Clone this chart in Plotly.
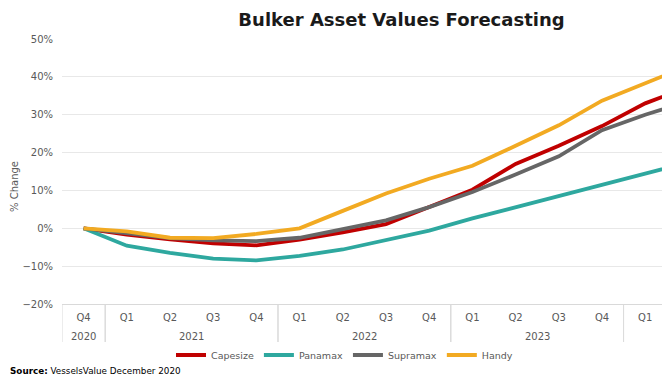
import plotly.graph_objects as go

# Periods on the category axis, with their two label rows
periods = ["Q4 2020", "Q1 2021", "Q2 2021", "Q3 2021", "Q4 2021",
           "Q1 2022", "Q2 2022", "Q3 2022", "Q4 2022",
           "Q1 2023", "Q2 2023", "Q3 2023", "Q4 2023",
           "Q1 2024", "Q2 2024"]
quarter_labels = ["Q4", "Q1", "Q2", "Q3", "Q4", "Q1", "Q2", "Q3", "Q4",
                  "Q1", "Q2", "Q3", "Q4", "Q1", "Q2"]
year_labels = ["2020", "2021", "2022", "2023"]
year_first_idx = [0, 1, 5, 9]   # first period of each year group
year_sizes = [1, 4, 4, 4]       # periods in each group

# % change series (Q4 2020 .. Q2 2024)
capesize = [0, -1.7, -2.9, -4.0, -4.5, -3.0, -1.1, 1.1, 5.6, 10.2, 17.0, 21.8, 27.0, 33.0, 37.3]
panamax = [0, -4.6, -6.5, -8.0, -8.5, -7.3, -5.6, -3.0, -0.6, 2.6, 5.6, 8.5, 11.5, 14.4, 17.4]
supramax = [0, -1.4, -2.6, -3.2, -3.4, -2.5, -0.3, 2.1, 5.6, 9.6, 14.2, 19.0, 25.9, 30.0, 33.5]
handy = [0, -0.8, -2.5, -2.6, -1.5, 0.0, 4.6, 9.2, 13.1, 16.5, 21.8, 27.2, 33.7, 38.3, 42.9]

series = [("Capesize", capesize, "#C00000"),
          ("Panamax", panamax, "#2EA89F"),
          ("Supramax", supramax, "#666666"),
          ("Handy", handy, "#F2AA22")]

FONT = "DejaVu Sans"
GREY = "#595959"
LINE_GREY = "#d9d9d9"

fig = go.Figure()
for name, vals, color in series:
    fig.add_trace(go.Scatter(
        x=periods[:len(vals)], y=vals, name=name, mode="lines",
        line=dict(color=color, width=3.8),
    ))

# the page body has an 8px margin: size the figure to the visible window
OFF = 8
W, H = 670 - OFF, 380 - OFF
PL, PT, PB = 62, 39, 304          # plot-area edges in window pixels
L, R, T = PL - OFF, 0, PT - OFF
B = H - (PB - OFF)
plot_w = W - L - R
plot_h = H - T - B
cat_w = 43.2
xmax = plot_w / cat_w - 0.5


def px_x(X):   # window x -> paper x
    return (X - PL) / plot_w


def px_y(Y):   # window y -> paper y
    return (PB - Y) / plot_h


fig.update_layout(
    width=W, height=H,
    margin=dict(l=L, r=R, t=T, b=B, autoexpand=False),
    paper_bgcolor="white", plot_bgcolor="white",
    font=dict(family=FONT, size=10, color=GREY),
    title=dict(text="<b>Bulker Asset Values Forecasting</b>",
               font=dict(family=FONT, size=18, color="#1a1a1a"),
               x=(401.5 - OFF) / W, xref="container", xanchor="center",
               y=1 - (20 - OFF) / H, yref="container", yanchor="middle"),
    showlegend=True,
    legend=dict(orientation="h", xref="container", yref="container",
                x=(344.5 - OFF) / W, xanchor="center",
                y=1 - (355 - OFF) / H, yanchor="middle",
                font=dict(family=FONT, size=9.5, color=GREY),
                itemwidth=30, bgcolor="rgba(0,0,0,0)"),
    xaxis=dict(type="category", categoryorder="array", categoryarray=periods,
               range=[-0.5, xmax], automargin=False,
               tickmode="array", tickvals=periods, ticktext=quarter_labels,
               showgrid=False, zeroline=False,
               showline=True, linecolor=LINE_GREY, linewidth=1,
               ticks="", ticklabelstandoff=4,
               tickfont=dict(family=FONT, size=10, color=GREY)),
    yaxis=dict(range=[-20, 50], dtick=10, ticksuffix="%", automargin=False,
               showgrid=True, gridcolor="#e8e8e8", gridwidth=1,
               zeroline=False, showline=False, ticks="",
               ticklabelstandoff=8,
               tickfont=dict(family=FONT, size=10, color=GREY)),
)

# year row labels and group dividers of the category axis
for yl, first, size in zip(year_labels, year_first_idx, year_sizes):
    fig.add_annotation(text=yl, showarrow=False, xref="x", yref="paper",
                       x=first + (size - 1) / 2, y=px_y(336),
                       xanchor="center", yanchor="middle",
                       font=dict(family=FONT, size=10, color=GREY))
    for edge in (first - 0.5, first + size - 0.5):
        fig.add_shape(type="line", xref="x", yref="paper",
                      x0=edge, x1=edge, y0=0, y1=px_y(342),
                      line=dict(color=LINE_GREY, width=1))

fig.add_annotation(text="% Change", textangle=-90, showarrow=False,
                   xref="paper", yref="paper",
                   x=px_x(14), y=px_y(187),
                   xanchor="center", yanchor="middle",
                   font=dict(family=FONT, size=10, color=GREY))
fig.add_annotation(text="<b>Source:</b> VesselsValue December 2020", showarrow=False,
                   xref="paper", yref="paper",
                   x=px_x(OFF), y=px_y(371),
                   xanchor="left", yanchor="middle",
                   font=dict(family=FONT, size=8.8, color="#000000"))

fig.write_html("out.html")
